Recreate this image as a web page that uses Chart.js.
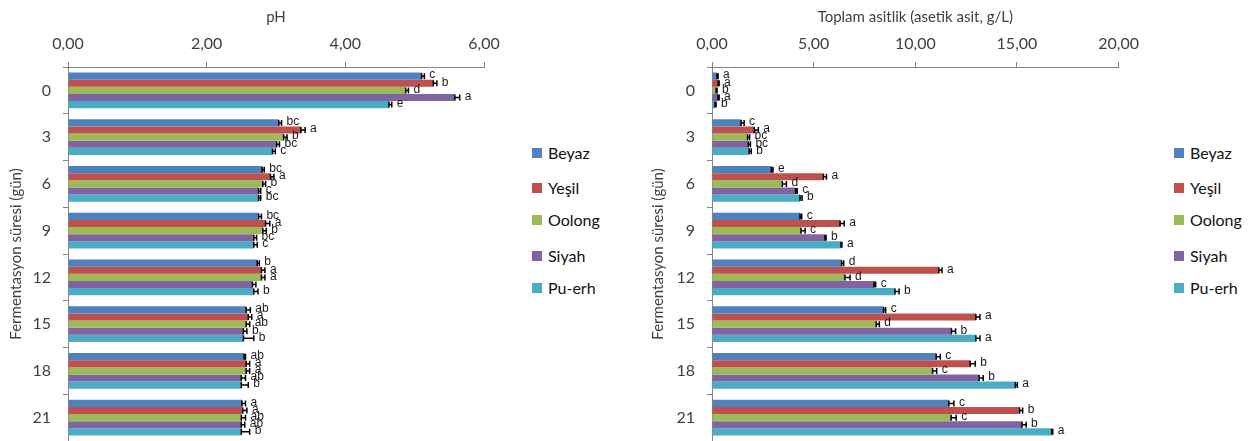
<!DOCTYPE html>
<html>
<head>
<meta charset="utf-8">
<script src="https://cdn.jsdelivr.net/npm/chart.js@4.4.1/dist/chart.umd.min.js"></script>
<style>
  html, body { margin: 0; padding: 0; background: #fff; }
  body { width: 1256px; height: 441px; position: relative; overflow: hidden; font-family: Lato, "Open Sans", sans-serif; }
  .panel { position: absolute; top: 0; height: 441px; }
  .legend { position: absolute; top: 0; }
  .legend div { position: absolute; white-space: nowrap; font-size: 16px; color: #111; line-height: 16px; }
  .legend span { position: absolute; left: -16px; top: 3px; width: 10px; height: 10px; }
</style>
</head>
<body>
<div class="panel" style="left:0;width:510px;"><canvas id="phChart" width="510" height="441"></canvas></div>
<div class="legend" id="legendLeft" style="left:548px;"></div>
<div class="panel" style="left:642px;width:506px;"><canvas id="acidChart" width="506" height="441"></canvas></div>
<div class="legend" id="legendRight" style="left:1190px;"></div>
<script>
// Fermentation days (category axis)
const days = ['0', '3', '6', '9', '12', '15', '18', '21'];

// Tea types and their colours
const teaNames = ['Beyaz', 'Yeşil', 'Oolong', 'Siyah', 'Pu-erh'];
const teaColors = ['#4F81BD', '#C0504D', '#9BBB59', '#8064A2', '#4BACC6'];

// pH values
const phBeyaz  = [5.10, 3.04, 2.80, 2.75, 2.73, 2.57, 2.54, 2.51];
const phYesil  = [5.27, 3.36, 2.92, 2.85, 2.79, 2.60, 2.57, 2.52];
const phOolong = [4.87, 3.11, 2.81, 2.81, 2.79, 2.57, 2.57, 2.50];
const phSiyah  = [5.58, 3.01, 2.75, 2.68, 2.66, 2.53, 2.50, 2.50];
const phPuerh  = [4.63, 2.95, 2.75, 2.68, 2.68, 2.53, 2.50, 2.50];

// pH standard deviations
const phErrBeyaz  = [0.04, 0.04, 0.03, 0.04, 0.03, 0.06, 0.02, 0.05];
const phErrYesil  = [0.05, 0.06, 0.05, 0.06, 0.05, 0.05, 0.05, 0.06];
const phErrOolong = [0.04, 0.05, 0.04, 0.05, 0.05, 0.05, 0.05, 0.06];
const phErrSiyah  = [0.07, 0.04, 0.03, 0.04, 0.05, 0.05, 0.06, 0.05];
const phErrPuerh  = [0.04, 0.04, 0.03, 0.05, 0.06, 0.15, 0.10, 0.12];

// pH significance letters
const phLetBeyaz  = ['c', 'bc', 'bc', 'bc', 'b', 'ab', 'ab', 'a'];
const phLetYesil  = ['b', 'a', 'a', 'a', 'a', 'a', 'a', 'a'];
const phLetOolong = ['d', 'b', 'b', 'b', 'a', 'ab', 'a', 'ab'];
const phLetSiyah  = ['a', 'bc', 'c', 'bc', '', 'b', 'ab', 'ab'];
const phLetPuerh  = ['e', 'c', 'bc', 'c', 'b', 'b', 'b', 'b'];

// Total acidity (acetic acid, g/L)
const acBeyaz  = [0.25, 1.43, 2.92, 4.33, 6.38, 8.44, 11.03, 11.65];
const acYesil  = [0.30, 2.08, 5.48, 6.30, 11.16, 12.98, 12.70, 15.13];
const acOolong = [0.20, 1.75, 3.46, 4.38, 6.54, 8.08, 10.85, 11.76];
const acSiyah  = [0.30, 1.79, 4.11, 5.56, 7.97, 11.78, 13.14, 15.25];
const acPuerh  = [0.15, 1.83, 4.33, 6.34, 9.00, 12.98, 14.92, 16.71];

// Total acidity standard deviations
const acErrBeyaz  = [0.05, 0.15, 0.08, 0.08, 0.10, 0.10, 0.20, 0.25];
const acErrYesil  = [0.05, 0.20, 0.15, 0.20, 0.15, 0.20, 0.25, 0.15];
const acErrOolong = [0.05, 0.10, 0.20, 0.20, 0.25, 0.15, 0.20, 0.25];
const acErrSiyah  = [0.05, 0.10, 0.08, 0.05, 0.08, 0.20, 0.20, 0.20];
const acErrPuerh  = [0.05, 0.10, 0.10, 0.05, 0.20, 0.20, 0.10, 0.05];

// Total acidity significance letters
const acLetBeyaz  = ['a', 'c', 'e', 'c', 'd', 'c', 'c', 'c'];
const acLetYesil  = ['a', 'a', 'a', 'a', 'a', 'a', 'b', 'b'];
const acLetOolong = ['b', 'bc', 'd', 'c', 'd', 'd', 'c', 'c'];
const acLetSiyah  = ['a', 'bc', 'c', 'b', 'c', 'b', 'b', 'b'];
const acLetPuerh  = ['b', 'b', 'b', 'a', 'b', 'a', 'a', 'a'];

const axisGray = '#868686';
const textGray = '#404040';

function makeDatasets(values, errs, letters) {
  return teaNames.map((name, i) => ({
    label: name,
    data: values[i],
    errors: errs[i],
    letters: letters[i],
    backgroundColor: teaColors[i],
    borderWidth: 0,
    barPercentage: 1.0,
    categoryPercentage: 0.76
  }));
}

// Draws one-sided error bars (bar end to bar end + sd) and significance letters
const errorBarPlugin = {
  id: 'errorBars',
  afterDatasetsDraw(chart) {
    const ctx = chart.ctx;
    const xScale = chart.scales.x;
    ctx.save();
    chart.data.datasets.forEach((ds, di) => {
      const meta = chart.getDatasetMeta(di);
      meta.data.forEach((bar, idx) => {
        const v = ds.data[idx];
        const e = ds.errors[idx];
        const x0 = xScale.getPixelForValue(v);
        const x1 = xScale.getPixelForValue(v + e);
        const y = bar.y;
        const h = 3;
        ctx.strokeStyle = '#000';
        ctx.lineWidth = 1.5;
        ctx.beginPath();
        ctx.moveTo(x0, y); ctx.lineTo(x1, y);
        ctx.moveTo(x0, y - h); ctx.lineTo(x0, y + h);
        ctx.moveTo(x1, y - h); ctx.lineTo(x1, y + h);
        ctx.stroke();
        const t = ds.letters[idx];
        if (t) {
          ctx.fillStyle = '#1a1a1a';
          ctx.font = '12px "Liberation Sans", Arial, sans-serif';
          ctx.textAlign = 'left';
          ctx.textBaseline = 'middle';
          ctx.fillText(t, x1 + 5, y - 1);
        }
      });
    });
    ctx.restore();
  }
};

function fmt(v) { return Number(v).toFixed(2).replace('.', ','); }

function makeChart(id, datasets, xMax, xStep, xTitle, yWidth, rightPad, yTitlePad) {
  return new Chart(document.getElementById(id), {
    type: 'bar',
    data: { labels: days, datasets: datasets },
    plugins: [errorBarPlugin],
    options: {
      indexAxis: 'y',
      responsive: false,
      animation: false,
      layout: { padding: { left: 0, right: rightPad, top: 0, bottom: 0 } },
      plugins: { legend: { display: false }, tooltip: { enabled: false } },
      scales: {
        x: {
          position: 'top',
          min: 0, max: xMax,
          ticks: { stepSize: xStep, padding: 9, color: textGray, font: { family: 'Lato', size: 16 }, callback: fmt },
          grid: { drawOnChartArea: false, drawTicks: true, tickLength: 5, color: axisGray, lineWidth: 1 },
          border: { display: true, color: axisGray, width: 1 },
          title: { display: true, text: xTitle, color: textGray, font: { family: 'Lato', size: 15 }, padding: { top: 8, bottom: 4 } },
          afterFit(scale) { scale.height = 67; scale.paddingLeft = 0; }
        },
        y: {
          ticks: { padding: 12, color: textGray, font: { family: 'Lato', size: 16 } },
          grid: { drawOnChartArea: false, drawTicks: true, tickLength: 5, color: axisGray, lineWidth: 1, offset: true },
          border: { display: true, color: axisGray, width: 1 },
          title: { display: true, text: 'Fermentasyon süresi (gün)', color: textGray, font: { family: 'Lato', size: 15 }, padding: { top: yTitlePad, bottom: 4 } },
          afterFit(scale) { scale.width = yWidth; scale.paddingTop = 0; scale.paddingBottom = 0; }
        }
      }
    }
  });
}

makeChart('phChart',
  makeDatasets([phBeyaz, phYesil, phOolong, phSiyah, phPuerh],
               [phErrBeyaz, phErrYesil, phErrOolong, phErrSiyah, phErrPuerh],
               [phLetBeyaz, phLetYesil, phLetOolong, phLetSiyah, phLetPuerh]),
  6, 2, 'pH', 68, 26, 7);

makeChart('acidChart',
  makeDatasets([acBeyaz, acYesil, acOolong, acSiyah, acPuerh],
               [acErrBeyaz, acErrYesil, acErrOolong, acErrSiyah, acErrPuerh],
               [acLetBeyaz, acLetYesil, acLetOolong, acLetSiyah, acLetPuerh]),
  20, 5, 'Toplam asitlik (asetik asit, g/L)', 70, 25, 7);

// HTML legends beside each panel
function buildLegend(id) {
  const box = document.getElementById(id);
  const tops = [145, 180, 212, 248, 280];
  teaNames.forEach((n, i) => {
    const d = document.createElement('div');
    d.style.top = tops[i] + 'px';
    const s = document.createElement('span');
    s.style.background = teaColors[i];
    d.appendChild(s);
    d.appendChild(document.createTextNode(n));
    box.appendChild(d);
  });
}
buildLegend('legendLeft');
buildLegend('legendRight');
</script>
</body>
</html>
